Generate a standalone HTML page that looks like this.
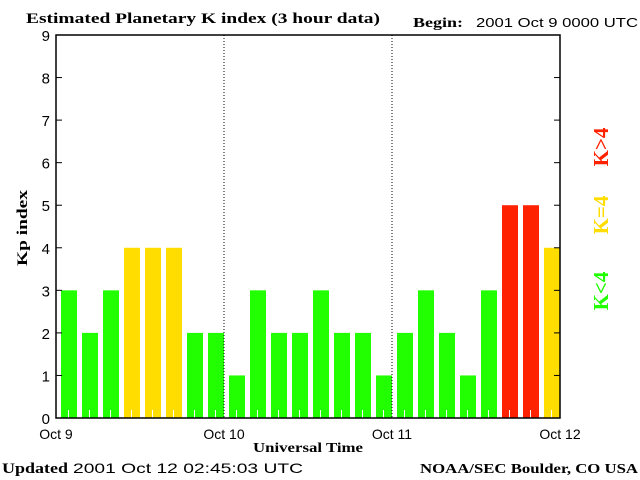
<!DOCTYPE html>
<html><head><meta charset="utf-8"><style>
body{margin:0;background:#fff}
svg{display:block}
.s{font-family:"Liberation Sans",sans-serif}
.b{font-family:"Liberation Serif",serif;font-weight:bold}
</style></head><body>
<svg id="c" width="640" height="480">
<text class="b" x="26" y="23" font-size="15" textLength="354" lengthAdjust="spacingAndGlyphs">Estimated Planetary K index (3 hour data)</text>
<text class="b" x="413" y="27" font-size="14" textLength="50" lengthAdjust="spacingAndGlyphs">Begin:</text>
<text class="s" x="476" y="27" font-size="13" textLength="162" lengthAdjust="spacingAndGlyphs">2001 Oct 9 0000 UTC</text>
<g id="bars"></g>
<g id="axes"></g>
<text class="b" x="0" y="0" font-size="15" transform="translate(27,228) rotate(-90)" text-anchor="middle" textLength="76" lengthAdjust="spacingAndGlyphs">Kp index</text>
<text class="b" x="253" y="452" font-size="14" textLength="110" lengthAdjust="spacingAndGlyphs">Universal Time</text>
<text class="b" x="2" y="473" font-size="15" textLength="66" lengthAdjust="spacingAndGlyphs">Updated</text>
<text class="s" x="73" y="473" font-size="14" textLength="230" lengthAdjust="spacingAndGlyphs">2001 Oct 12 02:45:03 UTC</text>
<text class="b" x="420" y="473" font-size="14" textLength="218" lengthAdjust="spacingAndGlyphs">NOAA/SEC Boulder, CO USA</text>
<text class="b" font-size="21" fill="#ff2200" transform="translate(608,147) rotate(-90)" text-anchor="middle">K&gt;4</text>
<text class="b" font-size="21" fill="#ffdd00" transform="translate(608,215) rotate(-90)" text-anchor="middle">K=4</text>
<text class="b" font-size="21" fill="#22ff00" transform="translate(608,291) rotate(-90)" text-anchor="middle">K&lt;4</text>
</svg>
<script>
const kpValues=[3,2,3,4,4,4,2,2, 1,3,2,2,3,2,2,1, 2,3,2,1,3,5,5,4];
const dayLabels=["Oct 9","Oct 10","Oct 11","Oct 12"];
const yTicks=[0,1,2,3,4,5,6,7,8,9];
const NS="http://www.w3.org/2000/svg";
const L=56,R=560,T=35,B=418;
const y=v=>B-(v/9)*(B-T);
const slot=(R-L)/kpValues.length;
const x=i=>L+i*slot;
function mk(t,a,p){const e=document.createElementNS(NS,t);for(const k in a)e.setAttribute(k,a[k]);p.appendChild(e);return e;}
const bars=document.getElementById('bars'),ax=document.getElementById('axes');
kpValues.forEach((v,i)=>{
  const col=v>4?"#ff2200":v==4?"#ffdd00":"#22ff00";
  const r=mk('rect',{x:x(i)+5,y:y(v),width:slot-5,height:B-y(v),fill:col},bars);
  
  
});
for(let i=0;i<kpValues.length;i++){
  const cx=x(i)+slot/2+2;
  const t=mk('line',{x1:cx,x2:cx,y1:B,y2:B-8,stroke:"#fff","stroke-width":1},ax);
  
  
}
const frame=mk('rect',{x:L,y:T,width:R-L,height:B-T,fill:"none",stroke:"#000","stroke-width":1.5},ax);


yTicks.forEach(v=>{
  const l1=mk('line',{x1:L,x2:L+6,y1:y(v),y2:y(v),stroke:"#000"},ax);
  
  
  const l2=mk('line',{x1:R-6,x2:R,y1:y(v),y2:y(v),stroke:"#000"},ax);
  
  
  const t=mk('text',{x:L-6,y:y(v)+6,"font-size":15,"text-anchor":"end",class:"s"},ax);
  t.textContent=v;
  
  
});
dayLabels.forEach((d,i)=>{
  const px=L+i*8*slot;
  if(i>0&&i<dayLabels.length-1){
    const g=mk('line',{x1:px,x2:px,y1:T,y2:B,stroke:"#000","stroke-dasharray":"1,2"},ax);
    
    
  }
  const t=mk('text',{x:px,y:439,"font-size":14,"text-anchor":"middle",class:"s"},ax);
  t.textContent=d;
  
  
});
</script>
</body></html>
